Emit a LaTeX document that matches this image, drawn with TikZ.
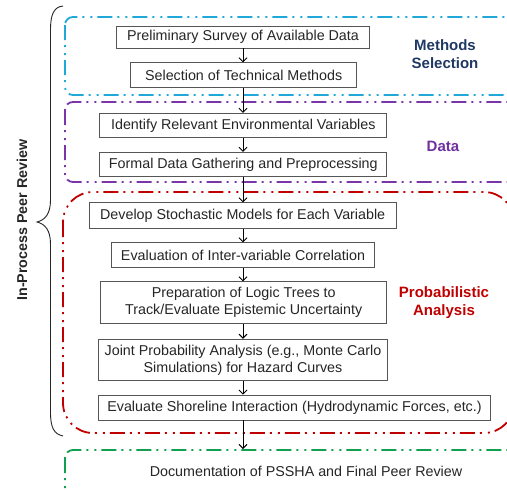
\documentclass[tikz,border=0pt]{standalone}
\usepackage{fontspec}
\setmainfont{Liberation Sans}
\usetikzlibrary{arrows.meta}
\definecolor{frameblue}{HTML}{1FA8D8}
\definecolor{framepurple}{HTML}{7A35A8}
\definecolor{framered}{HTML}{C00000}
\definecolor{framegreen}{HTML}{10A050}
\definecolor{navylabel}{HTML}{1F3864}
\definecolor{purplelabel}{HTML}{7030A0}
\definecolor{redlabel}{HTML}{C00000}
\definecolor{boxline}{HTML}{555555}
\begin{document}
\begin{tikzpicture}[x=1pt,y=-1pt,
  stepbox/.style={draw=boxline, line width=0.8pt, fill=white, align=center,
    inner sep=0pt, font=\fontsize{14.3}{17}\selectfont, text=black!85},
  phase/.style={line width=1.8pt, line cap=butt,
    dash pattern=on 15pt off 5pt on 2pt off 6pt on 2pt off 5pt},
  phaselabel/.style={font=\fontsize{15}{17.5}\selectfont\bfseries, align=center},
  flow/.style={line width=0.9pt, -{Straight Barb[length=4pt,width=8pt]}}]
\useasboundingbox[fill=white] (0,0) rectangle (507,490);

% phase frames (open to the right, cut by the page edge)
\begin{scope}
  \clip (0,0) rectangle (507,490);
  \draw[phase, frameblue, rounded corners=8pt] (65,17) rectangle (545,95);
  \draw[phase, framepurple, rounded corners=8pt] (65,102) rectangle (545,182);
  \draw[phase, framered, rounded corners=30pt] (63,192) rectangle (514,433);
  \draw[phase, framegreen, rounded corners=8pt] (65,450) rectangle (545,530);
\end{scope}

% process steps
\node[stepbox, minimum width=253pt, minimum height=22pt] (b1) at (243,37)
  {Preliminary Survey of Available Data};
\node[stepbox, minimum width=226pt, minimum height=24.5pt] (b2) at (243.7,75)
  {Selection of Technical Methods};
\node[stepbox, minimum width=287pt, minimum height=24.5pt] (b3) at (243.3,125.5)
  {Identify Relevant Environmental Variables};
\node[stepbox, minimum width=287pt, minimum height=24.5pt] (b4) at (243.3,164.5)
  {Formal Data Gathering and Preprocessing};
\node[stepbox, minimum width=306.7pt, minimum height=25.5pt] (b5) at (242.7,215.5)
  {Develop Stochastic Models for Each Variable};
\node[stepbox, minimum width=262.6pt, minimum height=24.5pt] (b6) at (243,255)
  {Evaluation of Inter-variable Correlation};
\node[stepbox, minimum width=286pt, minimum height=41.6pt] (b7) at (243.7,302.5)
  {Preparation of Logic Trees to\\Track/Evaluate Epistemic Uncertainty};
\node[stepbox, minimum width=289.4pt, minimum height=41.7pt] (b8) at (243,360)
  {Joint Probability Analysis (e.g., Monte Carlo\\Simulations) for Hazard Curves};
\node[stepbox, minimum width=392.4pt, minimum height=25pt] (b9) at (294.5,407.5)
  {Evaluate Shoreline Interaction (Hydrodynamic Forces, etc.)};
\node[font=\fontsize{14.3}{17}\selectfont, text=black!85] (b10) at (306,471.5)
  {Documentation of PSSHA and Final Peer Review};

% flow arrows along the main axis
\coordinate (ax) at (243,0);
\coordinate (gtop) at (243,449);
\draw[flow] (b1.south -| ax) -- (b2.north -| ax);
\draw[flow] (b2.south -| ax) -- (b3.north -| ax);
\draw[flow] (b3.south -| ax) -- (b4.north -| ax);
\draw[flow] (b4.south -| ax) -- (b5.north -| ax);
\draw[flow] (b5.south -| ax) -- (b6.north -| ax);
\draw[flow] (b6.south -| ax) -- (b7.north -| ax);
\draw[flow] (b7.south -| ax) -- (b8.north -| ax);
\draw[flow] (b8.south -| ax) -- (b9.north -| ax);
\draw[flow] (b9.south -| ax) -- (gtop);

% phase labels
\node[phaselabel, text=navylabel] (lmeth) at (445,54) {Methods\\Selection};
\node[phaselabel, text=purplelabel] (ldata) at (443,146) {Data};
\node[phaselabel, text=redlabel] (lprob) at (444,302.5) {Probabilistic\\Analysis};

% peer review brace
\draw[line width=0.9pt, black!85]
  (63,6) .. controls (54,7) and (50.5,14) .. (50.5,30)
  -- (50.5,200) .. controls (50.5,214) and (45,220) .. (37,222)
  .. controls (45,224) and (50.5,230) .. (50.5,244)
  -- (50.5,412) .. controls (50.5,428) and (54,434) .. (63,436);
\node[font=\fontsize{14.3}{17}\selectfont\bfseries, text=black!85, rotate=90]
  (review) at (22,220) {In-Process Peer Review};
\end{tikzpicture}
\end{document}
